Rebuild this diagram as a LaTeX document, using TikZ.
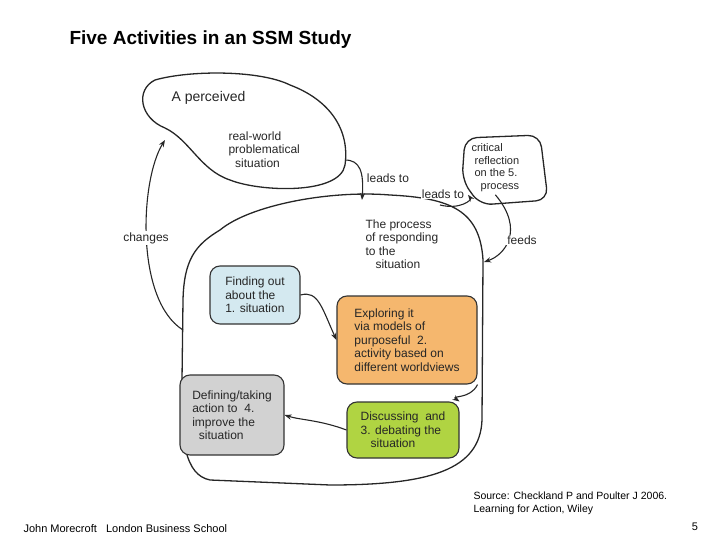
\documentclass[tikz,border=0pt]{standalone}
\usepackage{fontspec}
\setmainfont{Liberation Sans}
\usetikzlibrary{arrows.meta}
\definecolor{cblue}{RGB}{212,233,240}
\definecolor{corange}{RGB}{245,183,110}
\definecolor{cgreen}{RGB}{176,212,66}
\definecolor{cgrey}{RGB}{210,210,210}
\begin{document}
\begin{tikzpicture}[x=1pt,y=-1pt,
  blob/.style={draw=black!85,line width=1.3pt},
  box/.style={draw=black!80,line width=1.1pt,rounded corners=10pt},
  hand/.style={font=\fontsize{12}{13.5}\selectfont,align=left,text=black!85},
  lab/.style={hand,fill=white,inner sep=1pt},
  conn/.style={line width=1.1pt,-{Stealth[length=7pt]},black!85}]
\useasboundingbox (0,0) rectangle (720,540);
\node[anchor=west,font=\bfseries\fontsize{19}{22}\selectfont] (title) at (66,40) {Five Activities in an SSM Study};
% top blob
\draw[blob] (155,80) .. controls (190,70) and (260,70) .. (290,85) .. controls (330,100) and (350,130) .. (345,165)
  .. controls (340,195) and (260,192) .. (230,180) .. controls (200,170) and (190,140) .. (165,128)
  .. controls (140,118) and (135,90) .. (155,80) -- cycle;
\node[hand,anchor=north west,font=\fontsize{14}{15}\selectfont] (a) at (168,88) {A perceived};
\node[hand,anchor=north west] (rw) at (225,128) {real-world\\ problematical\\ \ \ situation};
% critical blob
\draw[blob,rounded corners=12pt] (465,138) -- (540,135) -- (548,200) -- (480,205) -- (462,180) -- cycle;
\node[hand,anchor=north west,font=\fontsize{11}{12.5}\selectfont] (cr) at (468,140) {critical\\ \ reflection\\ \ on the 5.\\ \ \ \ process};
% big blob
\draw[blob] (220,230) .. controls (250,205) and (330,190) .. (390,195)
  .. controls (450,198) and (480,210) .. (483,260) -- (482,420) .. controls (480,470) and (430,485) .. (330,485)
  -- (210,480) .. controls (185,475) and (180,440) .. (182,380) -- (183,300) .. controls (184,260) and (195,245) .. (220,230);
\node[hand,anchor=north west] (pr) at (362,216) {The process\\ of responding\\ to the\\ \ \ \ situation};
% boxes
\node[box,fill=cblue,hand,minimum width=90pt,minimum height=58pt] (b1) at (255,295) {Finding out\\ about the\\ 1. situation};
\node[box,fill=corange,hand,minimum width=140pt,minimum height=88pt] (b2) at (407,340) {Exploring it\\ via models of\\ purposeful \ 2.\\ activity based on\\ different worldviews};
\node[box,fill=cgreen,hand,minimum width=112pt,minimum height=56pt] (b3) at (403,430) {Discussing \ and\\ 3. debating the\\ \ \ \ situation};
\node[box,fill=cgrey,hand,minimum width=104pt,minimum height=80pt] (b4) at (232,415) {Defining/taking\\ action to \ 4.\\ improve the\\ \ \ situation};
% connectors
\draw[conn] (b1.east) .. controls (318,290) and (322,308) .. (b2.west);
\draw[conn] (b2.south east) .. controls (470,400) and (450,395) .. (b3.north east);
\draw[conn] (b3.west) .. controls (320,420) and (300,420) .. (b4.east);
\draw[conn] (183,330) .. controls (135,300) and (140,180) .. (165,140);
\draw[conn] (345,160) .. controls (360,160) and (364,172) .. (362,200);
\draw[conn] (440,205) .. controls (460,210) and (472,200) .. (cr.south west);
\draw[conn] (cr.south) .. controls (525,230) and (505,255) .. (484,262);
% labels
\node[lab] (ch) at (146,238) {changes};
\node[lab] (l1) at (388,178) {leads to};
\node[lab] (l2) at (443,194) {leads to};
\node[lab] (fd) at (522,240) {feeds};
% footer
\node[anchor=north west,align=left,font=\fontsize{10.5}{13}\selectfont] (src) at (470,488) {Source: Checkland P and Poulter J 2006.\\ Learning for Action, Wiley};
\node[anchor=west,font=\fontsize{11}{13}\selectfont] (jm) at (20,529) {John Morecroft \ \ London Business School};
\node[font=\fontsize{11}{13}\selectfont] (pg) at (695,527) {5};
\end{tikzpicture}
\end{document}
